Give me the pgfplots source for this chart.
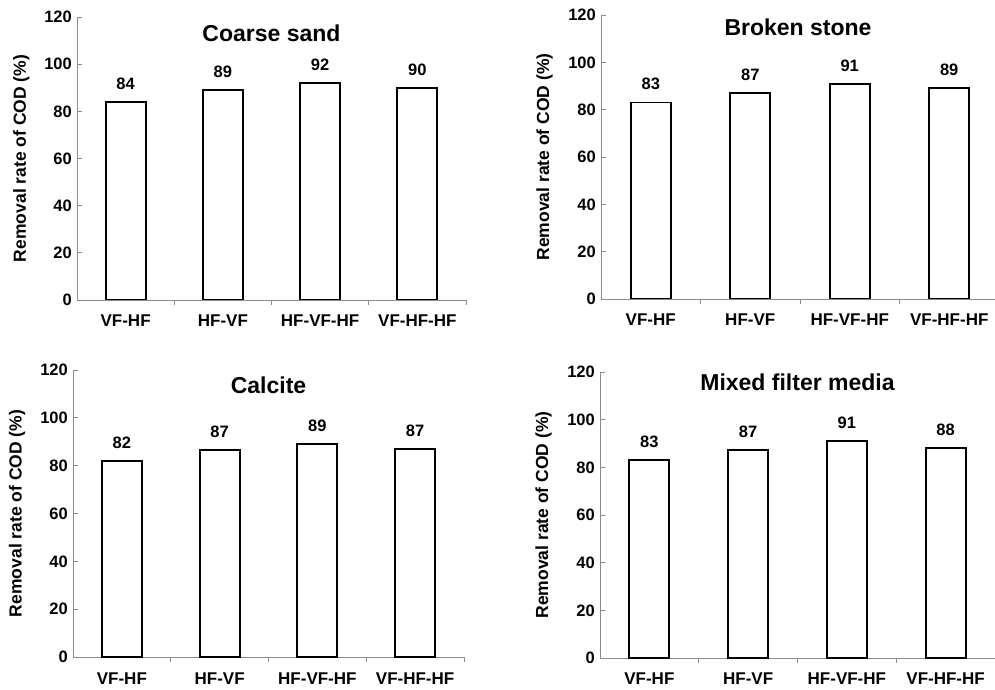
\documentclass[border=0pt]{standalone}
\usepackage{fontspec}
\setmainfont{Liberation Sans}
\usepackage{pgfplots}
\pgfplotsset{compat=1.18}
\newcommand{\fs}[1]{\bfseries\fontsize{#1}{#1}\selectfont}
\pgfplotsset{
  every axis title shift=0pt,
  panel/.style={
    scale only axis,
    ymin=0, ymax=120, xmin=-0.5,
    ytick={0,20,...,120},
    axis x line=bottom, axis y line=left,
    axis line style={-, draw=black!45, line width=0.8pt},
    tick style={draw=black!45, line width=0.8pt},
    tick align=inside,
    major tick length=5pt,
    xtick={0.5,1.5,2.5,3.5},
    xticklabels={},
    extra x ticks={0,1,2,3},
    extra x tick labels={VF-HF,HF-VF,HF-VF-HF,VF-HF-HF},
    extra x tick style={major tick length=0pt},
    /pgf/number format/assume math mode=true,
    yticklabel style={font=\fs{16.5}, inner sep=0pt, xshift=-5pt},
    xticklabel style={font=\fs{17}, inner sep=0pt, yshift=-14.5pt},
    ylabel={Removal rate of COD (\%)},
    every axis y label/.style={at={(axis description cs:-0.143,0.5)}, rotate=90, anchor=center, font=\fs{17.5}},
    title style={anchor=center, yshift=0pt, font=\fs{23}},
    ybar, bar width=40pt,
    nodes near coords={\pgfmathprintnumber[fixed,precision=0]{\pgfplotspointmeta}},
    every node near coord/.append style={font=\fs{16.5}, anchor=south, inner sep=0pt, yshift=11.5pt, black},
  },
  barst/.style={draw=black, fill=white, line width=1.8pt},
}
\begin{document}
\begin{tikzpicture}
\path[use as bounding box] (0pt,0pt) rectangle (995pt,690pt);
\begin{axis}[panel, at={(77pt,390pt)}, anchor=south west, width=389pt, height=283pt, xmax=3.5,
  title={Coarse sand}, title style={at={(0.5,0.942)}}]
\addplot[barst] coordinates {(0,84) (1,89) (2,92) (3,90)};
\end{axis}
\begin{axis}[panel, at={(601pt,391pt)}, anchor=south west, width=394pt, height=284pt, xmax=3.46,
  title={Broken stone}, title style={at={(0.5,0.958)}}]
\addplot[barst] coordinates {(0,83) (1,87) (2,91) (3,89)};
\end{axis}
\begin{axis}[panel, at={(73pt,33pt)}, anchor=south west, width=391pt, height=287pt, xmax=3.5,
  title={Calcite}, title style={at={(0.5,0.947)}},
  xticklabel style={yshift=-1.5pt}]
\addplot[barst] coordinates {(0,82) (1,86.6) (2,89) (3,87)};
\end{axis}
\begin{axis}[panel, at={(600pt,32pt)}, anchor=south west, width=395pt, height=286pt, xmax=3.5,
  title={Mixed filter media}, title style={at={(0.5,0.965)}},
  xticklabel style={yshift=-0.5pt}]
\addplot[barst] coordinates {(0,83) (1,87.3) (2,91) (3,88)};
\end{axis}
\end{tikzpicture}
\end{document}
